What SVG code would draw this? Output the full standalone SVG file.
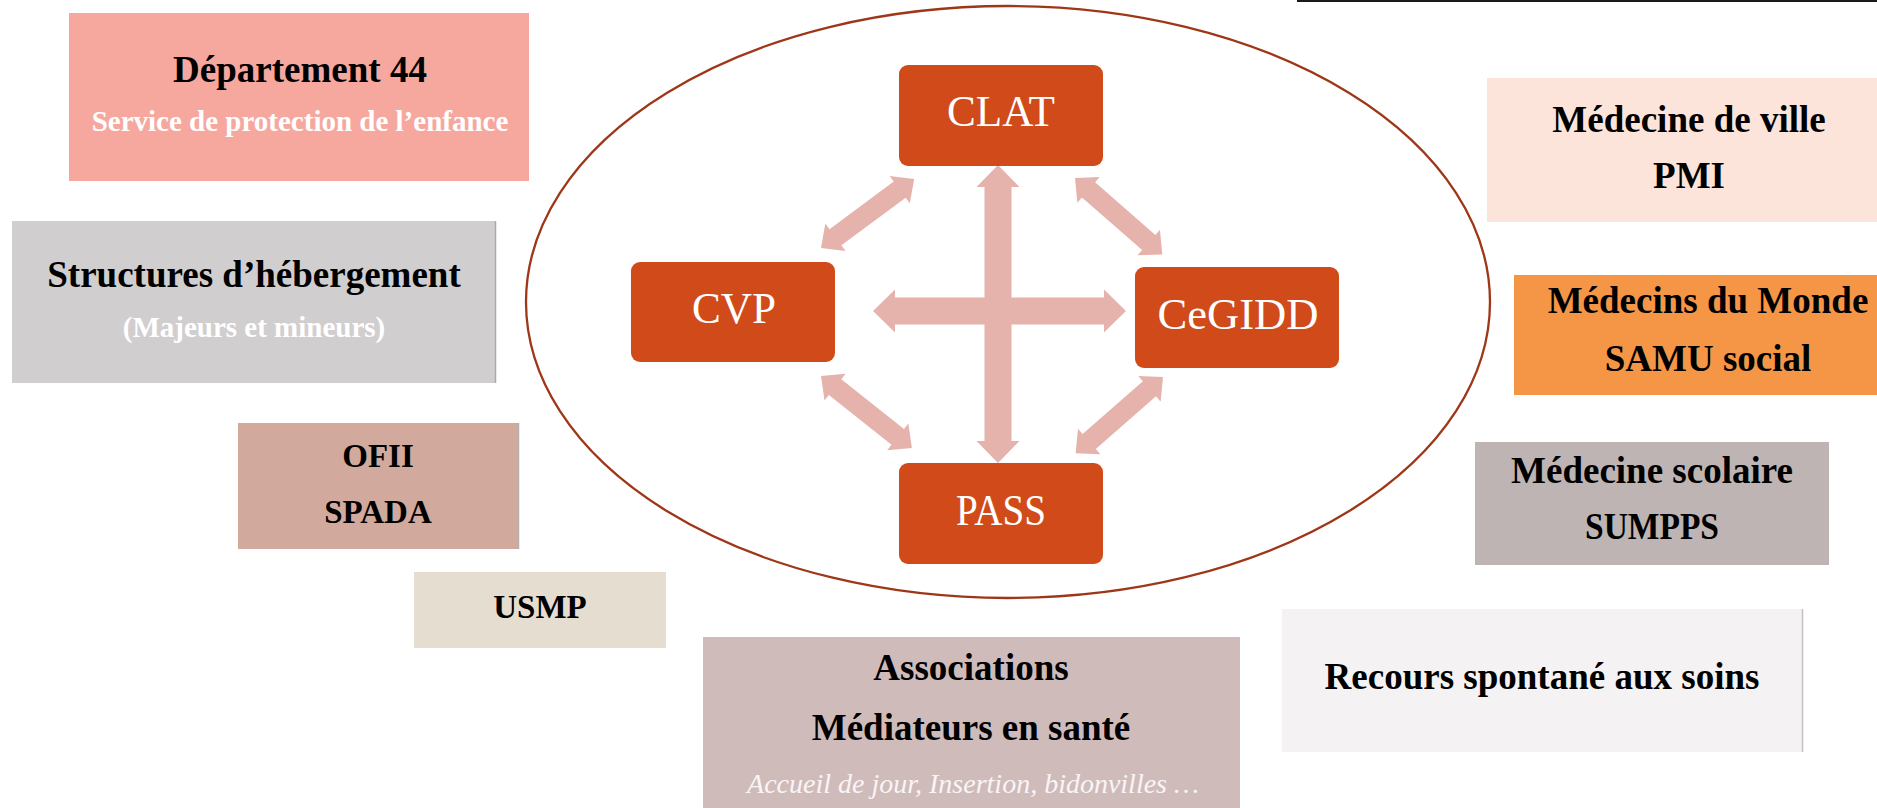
<svg xmlns="http://www.w3.org/2000/svg" xmlns:xlink="http://www.w3.org/1999/xlink" width="1877" height="808" viewBox="0 0 1877 808">
<style>
  text { font-family: "Liberation Serif", "DejaVu Serif", serif; text-anchor: middle; }
  .main { font-size: 37px; font-weight: bold; fill: #000; }
  .sub { font-size: 29px; font-weight: bold; fill: #FFFFFF; }
  .cond { font-size: 33px; font-weight: bold; fill: #000; }
  .ital { font-size: 28px; font-style: italic; fill: #FAF5F5; }
  .core rect { fill: #D14A19; }
  .core text { font-size: 44px; fill: #FFFFFF; }
  .arrow { fill: #E6B2AC; }
</style>
<defs>
  <path id="diag" class="arrow" d="M0,0 L18,-17 L18,-10 L98,-10 L98,-17 L116,0 L98,17 L98,10 L18,10 L18,17 Z"/>
</defs>
<rect width="1877" height="808" fill="#FFFFFF"/>
<rect x="1297" y="0" width="580" height="2" fill="#1A1A1A"/>

<ellipse id="ring" cx="1008" cy="302" rx="482" ry="296" fill="none" stroke="#9E3718" stroke-width="2.3"/>

<g id="connectors">
  <polygon class="arrow" points="998,165 1019.5,187 1011.5,187 1011.5,441 1019.5,441 998,463 976.5,441 984.5,441 984.5,187 976.5,187"/>
  <polygon class="arrow" points="873,311 895,289.5 895,297.5 1104,297.5 1104,289.5 1126,311 1104,332.5 1104,324.5 895,324.5 895,332.5"/>
  <use xlink:href="#diag" href="#diag" transform="translate(821,248) rotate(-36.57)"/>
  <use xlink:href="#diag" href="#diag" transform="translate(1075,178) rotate(41.19)"/>
  <use xlink:href="#diag" href="#diag" transform="translate(821,376) rotate(38.43)"/>
  <use xlink:href="#diag" href="#diag" transform="translate(1163,377) rotate(138.86)"/>
</g>

<g id="clat" class="core">
  <rect x="899" y="65" width="204" height="101" rx="9"/>
  <text x="1001" y="126" textLength="108" lengthAdjust="spacingAndGlyphs">CLAT</text>
</g>
<g id="cvp" class="core">
  <rect x="631" y="262" width="204" height="100" rx="9"/>
  <text x="734" y="323" textLength="84" lengthAdjust="spacingAndGlyphs">CVP</text>
</g>
<g id="cegidd" class="core">
  <rect x="1135" y="267" width="204" height="101" rx="9"/>
  <text x="1238" y="329" textLength="161" lengthAdjust="spacingAndGlyphs">CeGIDD</text>
</g>
<g id="pass" class="core">
  <rect x="899" y="463" width="204" height="101" rx="9"/>
  <text x="1001" y="525" textLength="90" lengthAdjust="spacingAndGlyphs">PASS</text>
</g>

<g id="departement">
  <rect x="69" y="13" width="460" height="168" fill="#F6A89F"/>
  <text class="main" x="300" y="82">Département 44</text>
  <text class="sub" x="300" y="131">Service de protection de l’enfance</text>
</g>

<g id="structures">
  <rect x="12" y="221" width="484" height="162" fill="#D1CECF"/>
  <line x1="495.5" y1="221" x2="495.5" y2="383" stroke="#ABA9AA" stroke-width="1.5"/>
  <text class="main" x="254" y="287">Structures d’hébergement</text>
  <text class="sub" x="254" y="337" fill="#F4F3F3">(Majeurs et mineurs)</text>
</g>

<g id="ofii">
  <rect x="238" y="423" width="281" height="126" fill="#D2A99D"/>
  <line x1="518.5" y1="423" x2="518.5" y2="549" stroke="#B7AFAD" stroke-width="1.5"/>
  <text class="cond" x="378" y="467">OFII</text>
  <text class="cond" x="378" y="523">SPADA</text>
</g>

<g id="usmp">
  <rect x="414" y="572" width="252" height="76" fill="#E5DED0"/>
  <text class="cond" x="540" y="618">USMP</text>
</g>

<g id="associations">
  <rect x="703" y="637" width="537" height="171" fill="#D0BBBB"/>
  <text class="main" x="971" y="680">Associations</text>
  <text class="main" x="971" y="740">Médiateurs en santé</text>
  <text class="ital" x="973" y="793">Accueil de jour, Insertion, bidonvilles …</text>
</g>

<g id="medecine-ville">
  <rect x="1487" y="78" width="390" height="144" fill="#FDE4DA"/>
  <text class="main" x="1689" y="132">Médecine de ville</text>
  <text class="main" x="1689" y="188">PMI</text>
</g>

<g id="medecins-monde">
  <rect x="1514" y="275" width="363" height="120" fill="#F59647"/>
  <text class="main" x="1708" y="313">Médecins du Monde</text>
  <text class="main" x="1708" y="371">SAMU social</text>
</g>

<g id="medecine-scolaire">
  <rect x="1475" y="442" width="354" height="123" fill="#BEB4B4"/>
  <text class="main" x="1652" y="483">Médecine scolaire</text>
  <text class="main" x="1652" y="539" textLength="134" lengthAdjust="spacingAndGlyphs">SUMPPS</text>
</g>

<g id="recours">
  <rect x="1282" y="609" width="521" height="143" fill="#F4F2F3"/>
  <line x1="1802.5" y1="609" x2="1802.5" y2="752" stroke="#C4C2C3" stroke-width="1.5"/>
  <text class="main" x="1542" y="689">Recours spontané aux soins</text>
</g>
</svg>
